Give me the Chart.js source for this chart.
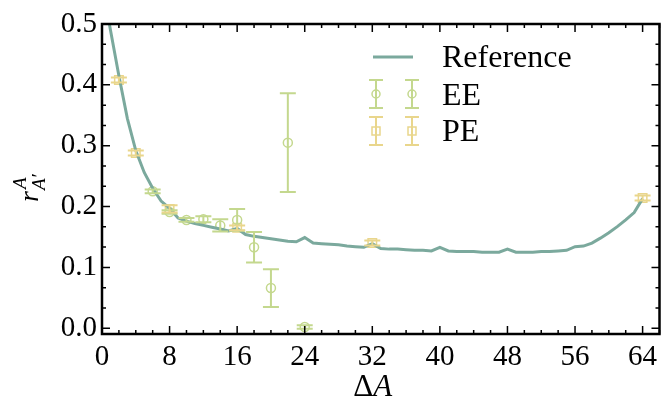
<!DOCTYPE html>
<html>
<head>
<meta charset="utf-8">
<script src="https://cdn.jsdelivr.net/npm/chart.js@4.4.1/dist/chart.umd.min.js"></script>
<style>
  html, body { margin: 0; padding: 0; background: #fff; }
  canvas { display: block; }
</style>
</head>
<body>
<canvas id="rChart" width="667" height="402"></canvas>
<script>
"use strict";

// reference curve, one value per ΔA
const refX = [0, 1, 2, 3, 4, 5, 6, 7, 8, 9, 10, 11, 12, 13, 14, 15, 16, 17, 18, 19, 20,
  21, 22, 23, 24, 25, 26, 27, 28, 29, 30, 31, 32, 33, 34, 35, 36, 37, 38, 39, 40,
  41, 42, 43, 44, 45, 46, 47, 48, 49, 50, 51, 52, 53, 54, 55, 56, 57, 58, 59, 60,
  61, 62, 63, 64];
const refY = [0.570, 0.490, 0.415, 0.345, 0.292, 0.256, 0.230, 0.209, 0.197, 0.181, 0.176,
  0.172, 0.169, 0.166, 0.163, 0.160, 0.164, 0.154, 0.151, 0.149, 0.147,
  0.145, 0.143, 0.142, 0.149, 0.140, 0.139, 0.138, 0.137, 0.135, 0.134,
  0.133, 0.139, 0.131, 0.130, 0.130, 0.129, 0.128, 0.128, 0.127, 0.133,
  0.127, 0.126, 0.126, 0.126, 0.125, 0.125, 0.125, 0.130, 0.125, 0.125,
  0.125, 0.126, 0.126, 0.127, 0.128, 0.134, 0.135, 0.140, 0.148, 0.157,
  0.167, 0.178, 0.190, 0.213];

// EE estimates with errors
const eeX = [6, 8, 10, 12, 14, 16, 18, 20, 22, 24];
const eeY = [0.225, 0.191, 0.178, 0.179, 0.169, 0.178, 0.133, 0.066, 0.305, 0.002];
const eeErr = [0.003, 0.003, 0.003, 0.005, 0.010, 0.018, 0.025, 0.031, 0.081, 0.003];

// PE estimates with errors
const peX = [2, 4, 8, 16, 32, 64];
const peY = [0.408, 0.288, 0.196, 0.165, 0.140, 0.214];
const peErr = [0.004, 0.004, 0.006, 0.004, 0.004, 0.004];

const xTicks = [0, 8, 16, 24, 32, 40, 48, 56, 64];
const yTicks = [0.0, 0.1, 0.2, 0.3, 0.4, 0.5];

const REF_COLOR = "#7ba99d";
const EE_COLOR = "#c4d88e";
const PE_COLOR = "#e9d68c";
const SERIF = "'Liberation Serif', 'Times New Roman', serif";

function toPoints(xs, ys) {
  return xs.map((x, i) => ({ x: x, y: ys[i] }));
}

// error bars with caps, drawn after the markers' datasets
const errorBarPlugin = {
  id: "errorBars",
  afterDatasetsDraw(chart) {
    const ctx = chart.ctx;
    const xs = chart.scales.x;
    const ys = chart.scales.y;
    const area = chart.chartArea;
    const sets = [
      { x: eeX, y: eeY, e: eeErr, color: EE_COLOR },
      { x: peX, y: peY, e: peErr, color: PE_COLOR },
    ];
    ctx.save();
    ctx.beginPath();
    ctx.rect(area.left, area.top, area.right - area.left, area.bottom - area.top);
    ctx.clip();
    ctx.lineWidth = 2;
    sets.forEach((s) => {
      ctx.strokeStyle = s.color;
      s.x.forEach((xv, i) => {
        const px = xs.getPixelForValue(xv);
        const top = ys.getPixelForValue(s.y[i] + s.e[i]);
        const bot = ys.getPixelForValue(s.y[i] - s.e[i]);
        ctx.beginPath();
        ctx.moveTo(px, top);
        ctx.lineTo(px, bot);
        ctx.moveTo(px - 8, top);
        ctx.lineTo(px + 8, top);
        ctx.moveTo(px - 8, bot);
        ctx.lineTo(px + 8, bot);
        ctx.stroke();
      });
    });
    ctx.restore();
  },
};

// matplotlib-like frame: box with inward major/minor ticks on all sides
const framePlugin = {
  id: "frame",
  afterDraw(chart) {
    const ctx = chart.ctx;
    const xs = chart.scales.x;
    const ys = chart.scales.y;
    const a = chart.chartArea;
    ctx.save();
    ctx.strokeStyle = "#000";
    ctx.lineWidth = 1.5;
    ctx.beginPath();
    for (let v = 0; v <= 66; v += 2) {
      const px = xs.getPixelForValue(v);
      const len = v % 8 === 0 ? 8 : 4;
      ctx.moveTo(px, a.bottom);
      ctx.lineTo(px, a.bottom - len);
      ctx.moveTo(px, a.top);
      ctx.lineTo(px, a.top + len);
    }
    for (let k = 0; k <= 15; k++) {
      const py = ys.getPixelForValue(k / 30);
      const len = k % 3 === 0 ? 8 : 4;
      ctx.moveTo(a.left, py);
      ctx.lineTo(a.left + len, py);
      ctx.moveTo(a.right, py);
      ctx.lineTo(a.right - len, py);
    }
    ctx.stroke();
    ctx.lineWidth = 2.5;
    ctx.strokeRect(a.left, a.top, a.right - a.left, a.bottom - a.top);

    // axis titles
    ctx.fillStyle = "#000";
    ctx.textBaseline = "alphabetic";
    ctx.textAlign = "left";
    ctx.font = "31px " + SERIF;
    const cx = (a.left + a.right) / 2 - 8;
    const dW = ctx.measureText("\u0394").width;
    ctx.font = "italic 31px " + SERIF;
    const aW = ctx.measureText("A").width;
    ctx.font = "31px " + SERIF;
    ctx.fillText("\u0394", cx - (dW + aW) / 2, 396);
    ctx.font = "italic 31px " + SERIF;
    ctx.fillText("A", cx - (dW + aW) / 2 + dW, 396);

    ctx.save();
    ctx.translate(38, 202);
    ctx.rotate(-Math.PI / 2);
    ctx.font = "italic 28px " + SERIF;
    ctx.fillText("r", 0, 0);
    const rW = ctx.measureText("r").width;
    ctx.font = "italic 19px " + SERIF;
    ctx.fillText("A", rW + 2, -12);
    ctx.fillText("A\u2032", rW + 1, 7);
    ctx.restore();

    // legend
    const lx = 373;
    ctx.strokeStyle = REF_COLOR;
    ctx.lineWidth = 3;
    ctx.beginPath();
    ctx.moveTo(lx, 57);
    ctx.lineTo(lx + 40, 57);
    ctx.stroke();
    const glyph = (x, y, color, square) => {
      ctx.strokeStyle = color;
      ctx.lineWidth = 2;
      ctx.beginPath();
      ctx.moveTo(x, y - 14);
      ctx.lineTo(x, y + 14);
      ctx.moveTo(x - 7, y - 14);
      ctx.lineTo(x + 7, y - 14);
      ctx.moveTo(x - 7, y + 14);
      ctx.lineTo(x + 7, y + 14);
      ctx.stroke();
      ctx.lineWidth = 1.5;
      ctx.beginPath();
      if (square) ctx.rect(x - 4, y - 4, 8, 8);
      else ctx.arc(x, y, 4, 0, Math.PI * 2);
      ctx.stroke();
    };
    glyph(lx + 3, 94, EE_COLOR, false);
    glyph(lx + 39, 94, EE_COLOR, false);
    glyph(lx + 3, 131, PE_COLOR, true);
    glyph(lx + 39, 131, PE_COLOR, true);
    ctx.fillStyle = "#000";
    ctx.font = "32px " + SERIF;
    ctx.fillText("Reference", 442, 67);
    ctx.fillText("EE", 442, 105);
    ctx.fillText("PE", 442, 141);
    ctx.restore();
  },
};

new Chart(document.getElementById("rChart"), {
  type: "scatter",
  data: {
    datasets: [
      {
        type: "line",
        label: "Reference",
        data: toPoints(refX, refY),
        borderColor: REF_COLOR,
        borderWidth: 3,
        pointRadius: 0,
        tension: 0,
        fill: false,
      },
      {
        label: "EE",
        data: toPoints(eeX, eeY),
        pointStyle: "circle",
        pointRadius: 4.5,
        pointBorderWidth: 1.5,
        borderColor: EE_COLOR,
        backgroundColor: "rgba(0,0,0,0)",
      },
      {
        label: "PE",
        data: toPoints(peX, peY),
        pointStyle: "rect",
        pointRadius: 6,
        pointBorderWidth: 1.5,
        borderColor: PE_COLOR,
        backgroundColor: "rgba(0,0,0,0)",
      },
    ],
  },
  options: {
    responsive: false,
    animation: false,
    events: [],
    layout: { padding: { left: 0, right: 5, top: 24, bottom: 0 } },
    plugins: {
      legend: { display: false },
      tooltip: { enabled: false },
    },
    scales: {
      x: {
        type: "linear",
        min: 0,
        max: 66,
        grid: { display: false, drawTicks: false },
        border: { display: false },
        afterBuildTicks: (scale) => {
          scale.ticks = xTicks.map((v) => ({ value: v }));
        },
        afterFit: (scale) => {
          scale.height = 68;
        },
        ticks: {
          padding: 6,
          maxRotation: 0,
          color: "#000",
          font: { family: SERIF, size: 29 },
          callback: (v) => String(v),
        },
      },
      y: {
        type: "linear",
        min: -0.0095,
        max: 0.5,
        grid: { display: false, drawTicks: false },
        border: { display: false },
        afterBuildTicks: (scale) => {
          scale.ticks = yTicks.map((v) => ({ value: v }));
        },
        afterFit: (scale) => {
          scale.width = 102;
        },
        ticks: {
          padding: 5,
          color: "#000",
          font: { family: SERIF, size: 29 },
          callback: (v) => v.toFixed(1),
        },
      },
    },
  },
  plugins: [errorBarPlugin, framePlugin],
});
</script>
</body>
</html>
